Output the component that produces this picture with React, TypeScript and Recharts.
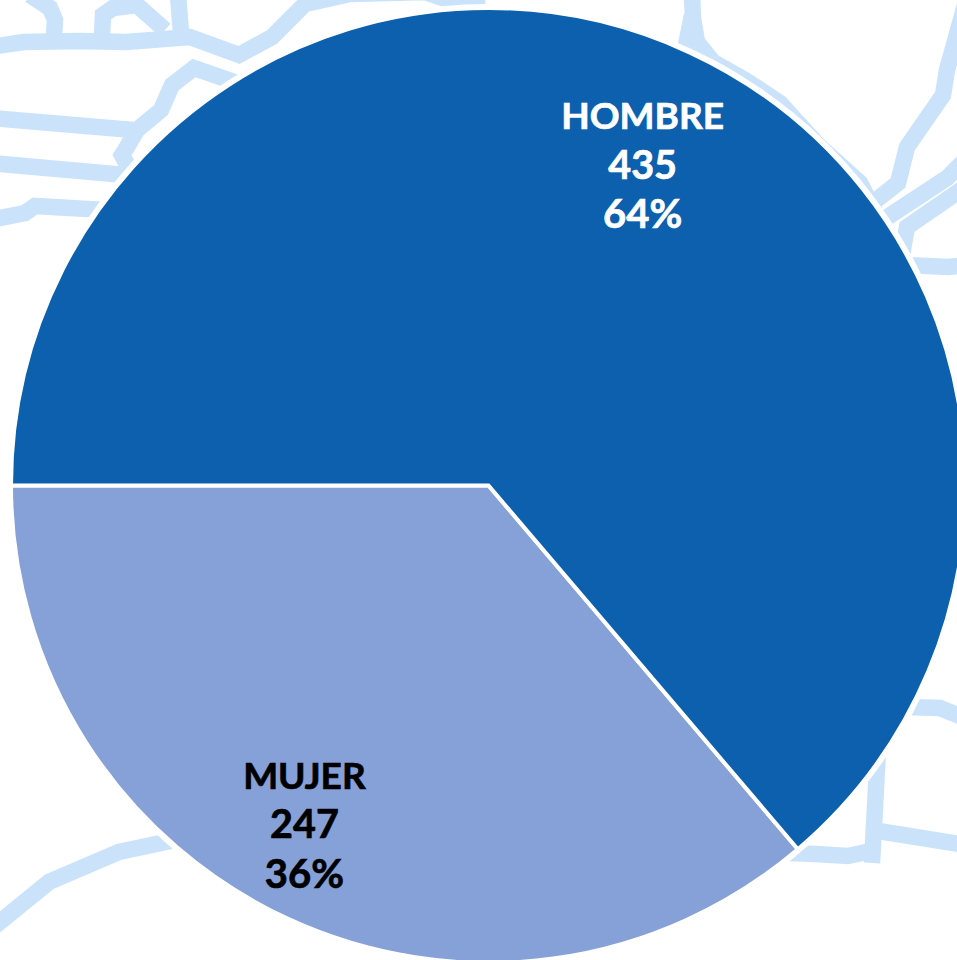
import React from "react";
import { PieChart, Pie, Cell } from "recharts";

const categories = ["MUJER", "HOMBRE"];
const counts = [247, 435];
const sliceColors = ["#86A1D7", "#0C60AD"];
const labelColors = ["#000000", "#FFFFFF"];
const labelRadii = [387.5, 354];
const labelAngleShifts = [-3.55, -1];
const lineFontSizes = [37, 39.5, 40];

const W = 957;
const H = 960;
const CX = 488.5;
const CY = 485.5;
const R = 477.5;
const LINE_STEP = 49.5;
const STREET = "#CAE3FB";

// Decorative street map behind the pie
const streets: number[][][] = [
  [[-10, 47], [24, 42], [80, 41], [126, 42], [190, 37], [239, 55], [272, 37], [305, 4], [350, -6], [425, -8], [448, 0], [485, -3]],
  [[30, -5], [50, 8], [55, 20], [54, 36]],
  [[102, 36], [103, 15], [113, 8], [137, 5], [165, 30]],
  [[178, -4], [181, 32]],
  [[240, 84], [194, 68], [172, 85], [161, 110], [137, 130], [127, 147], [122, 155], [130, 170]],
  [[-10, 118], [133, 130]],
  [[-10, 163], [125, 175]],
  [[-10, 220], [25, 213], [35, 206], [105, 210]],
  [[692, -5], [693, 18], [697, 42], [713, 62], [745, 80], [780, 103], [820, 147], [860, 183], [875, 212]],
  [[692, 15], [685, 50]],
  [[965, 5], [947, 70], [943, 95], [907, 147], [898, 183], [870, 205]],
  [[965, 160], [947, 178], [880, 222]],
  [[965, 187], [907, 227], [902, 255]],
  [[905, 265], [949, 267], [965, 265]],
  [[905, 707], [940, 708], [965, 718]],
  [[878, 750], [872, 863]],
  [[872, 830], [965, 845]],
  [[790, 853], [815, 854], [848, 856], [875, 850]],
  [[-10, 930], [49, 882], [119, 852], [180, 839]],
];

const data = categories.map((name, i) => ({ name, value: counts[i] }));

const renderLabel = (props: any) => {
  const { midAngle, percent, value, name, index } = props;
  const angle = ((midAngle + labelAngleShifts[index]) * Math.PI) / 180;
  const x = CX + labelRadii[index] * Math.cos(angle);
  const y = CY - labelRadii[index] * Math.sin(angle) - 1;
  const lines = [name, String(value), `${Math.round(percent * 100)}%`];
  return (
    <text
      key={name}
      x={x}
      y={y}
      textAnchor="middle"
      fill={labelColors[index]}
      stroke={labelColors[index]}
      strokeWidth={0.7}
      fontFamily="Lato, sans-serif"
      fontWeight={700}
    >
      {lines.map((line, i) => (
        <tspan key={i} x={x} y={y + 13 + (i - 1) * LINE_STEP} fontSize={lineFontSizes[i]}>
          {line}
        </tspan>
      ))}
    </text>
  );
};

export default function App() {
  return (
    <div style={{ position: "absolute", left: 0, top: 0, width: W, height: H, overflow: "hidden", background: "#FFFFFF" }}>
      <svg width={W} height={H} style={{ position: "absolute", left: 0, top: 0 }}>
        {streets.map((pts, i) => (
          <polyline
            key={i}
            points={pts.map((p) => p.join(",")).join(" ")}
            fill="none"
            stroke={STREET}
            strokeWidth={16.5}
            strokeLinejoin="miter"
          />
        ))}
        <circle cx={CX} cy={CY} r={R + 4} fill="#FFFFFF" />
      </svg>
      <div style={{ position: "absolute", left: 0, top: 0 }}>
        <PieChart width={W} height={H} margin={{ top: 0, right: 0, bottom: 0, left: 0 }}>
          <Pie
            data={data}
            dataKey="value"
            nameKey="name"
            cx={CX}
            cy={CY}
            innerRadius={0}
            outerRadius={R}
            startAngle={180}
            endAngle={540}
            stroke="#FFFFFF"
            strokeWidth={4}
            isAnimationActive={false}
            label={renderLabel}
            labelLine={false}
          >
            {data.map((d, i) => (
              <Cell key={d.name} fill={sliceColors[i]} />
            ))}
          </Pie>
        </PieChart>
      </div>
    </div>
  );
}
